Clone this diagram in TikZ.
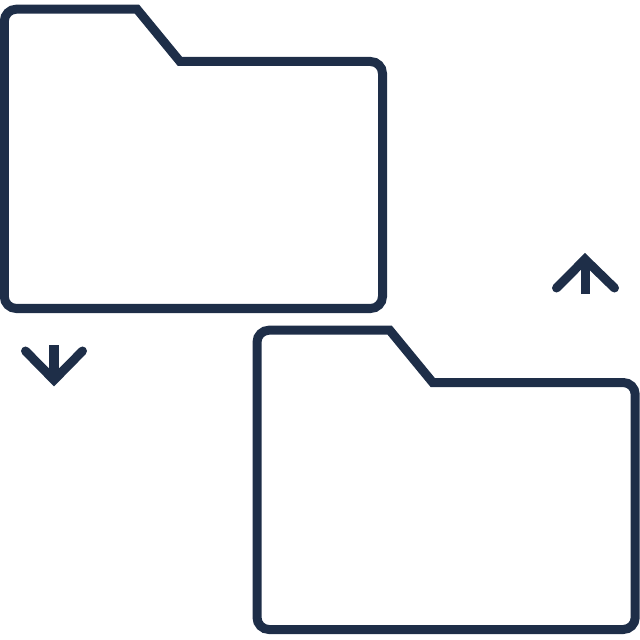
\documentclass[tikz,border=0pt]{standalone}
\usepackage{xcolor}
\definecolor{inkblue}{HTML}{1E2E48}
\tikzset{
  folder line/.style={
    draw=inkblue,
    line width=0.09cm,
    line join=miter
  },
  chevron line/.style={
    folder line,
    line cap=round
  },
  stem line/.style={
    folder line,
    line cap=butt
  },
  pics/folder/.style={
    code={
      \draw[folder line] (137,9.2) -- (180,61.5)
        [rounded corners=0.12cm] -- (382.5,61.5) -- (382.5,308.5)
        -- (4.3,308.5) -- (4.3,9.2) [sharp corners] -- cycle;
    }
  }
}
\begin{document}
\begin{tikzpicture}[x=0.01cm, y=-0.01cm]
  \useasboundingbox (0,0) rectangle (640,640);

  %% Folders
  \pic (upper) at (0,0) {folder};
  \pic (lower) at (252.7,321) {folder};

  %% Down arrow
  \draw[stem line] (54,345) -- (54,376);
  \draw[chevron line] (25.5,351) -- (54,380) -- (82.5,351);

  %% Up arrow
  \draw[stem line] (585,294) -- (585,263);
  \draw[chevron line] (556.5,288) -- (585,259.3) -- (614.5,288);
\end{tikzpicture}
\end{document}
